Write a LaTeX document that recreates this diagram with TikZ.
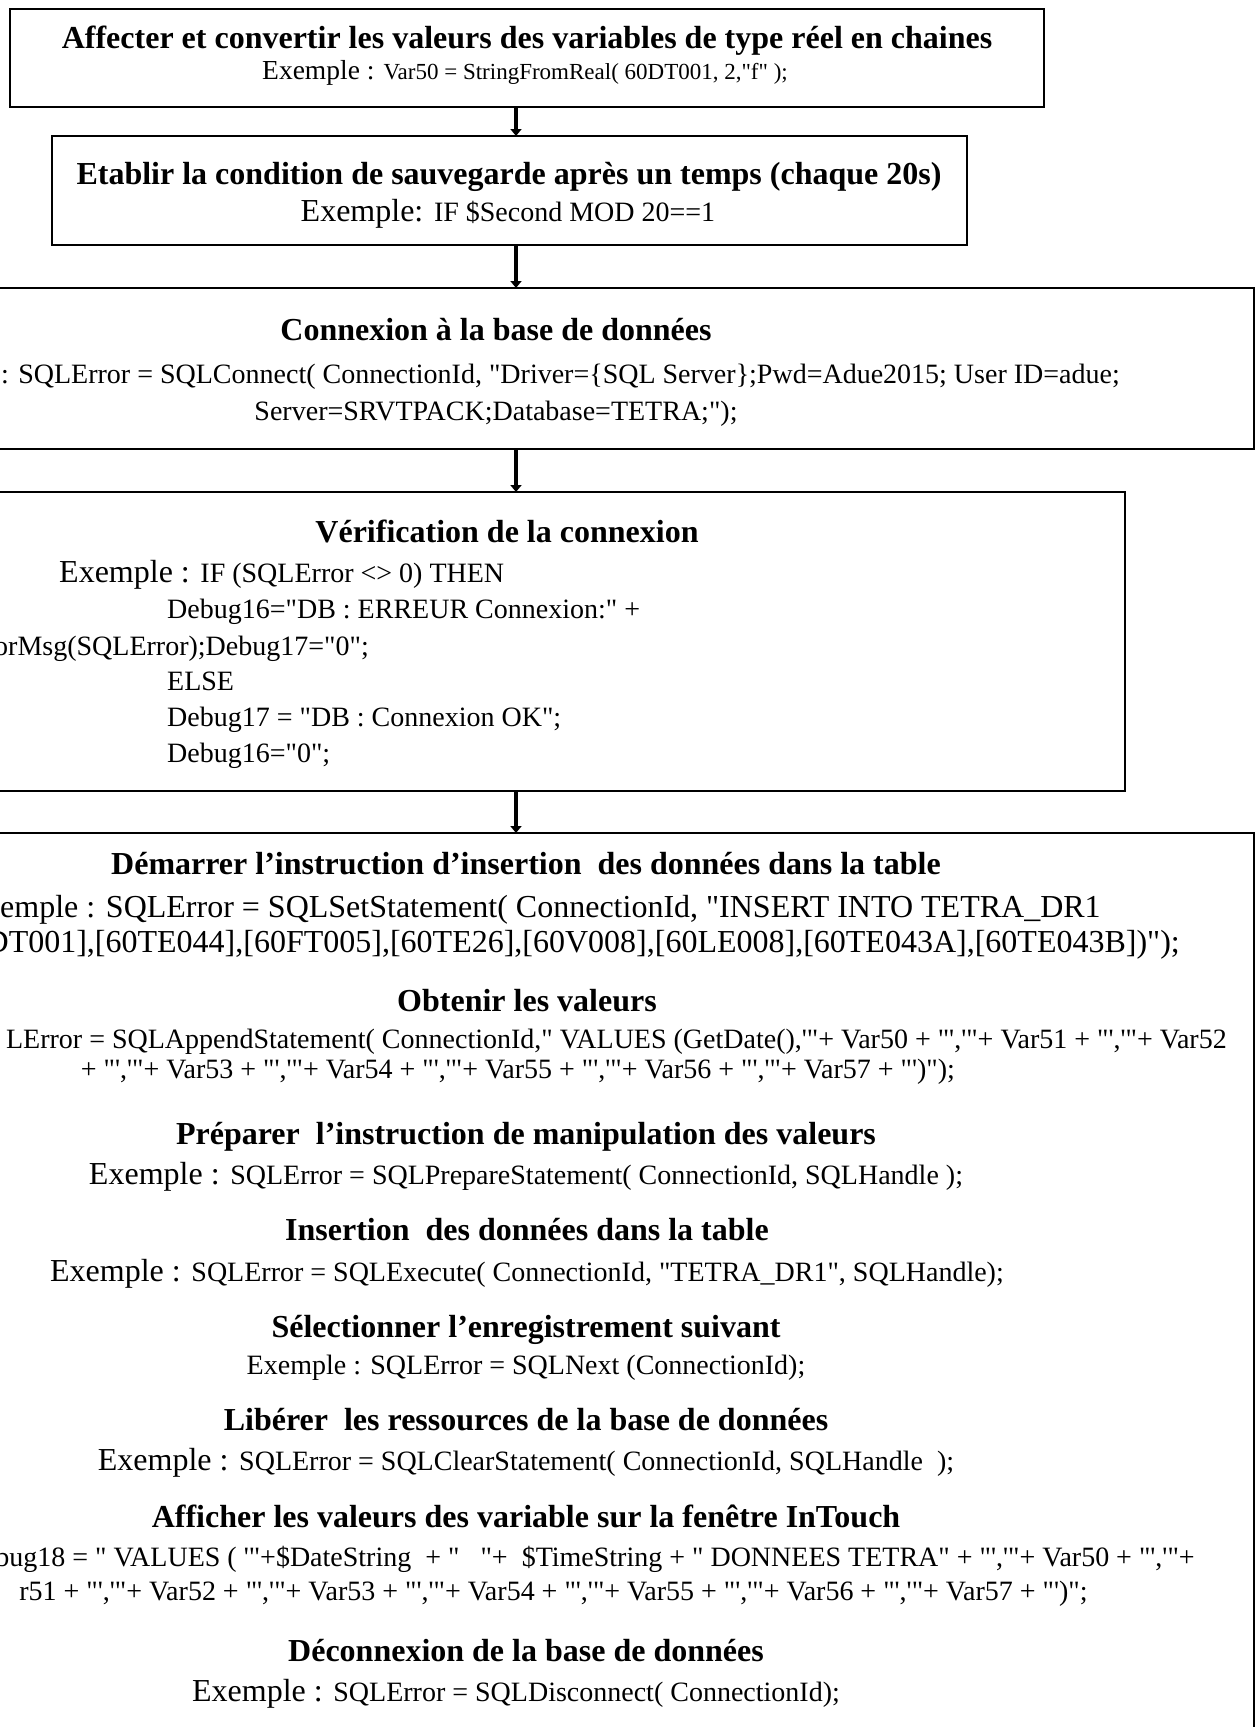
\documentclass[tikz,border=0pt]{standalone}
\usepackage{fontspec}
\newfontfamily\tnr{Liberation Serif}
\usetikzlibrary{arrows.meta}
\newcommand\ftitle{\tnr\bfseries\fontsize{32}{37}\selectfont}
\newcommand\fex{\tnr\fontsize{32}{37}\selectfont}
\newcommand\fcode{\tnr\fontsize{28}{32}\selectfont}
\newcommand\fexsmall{\tnr\fontsize{27.5}{32}\selectfont}
\newcommand\fcodesmall{\tnr\fontsize{23}{27}\selectfont}
\tikzset{
  stepbox/.style={draw, line width=2.2pt, inner sep=0pt, outer sep=0pt, rectangle},
  ttl/.style={anchor=base, inner sep=0pt, font=\ftitle},
  txt/.style={anchor=base, inner sep=0pt, font=\fcode},
  txtl/.style={anchor=base west, inner sep=0pt, font=\fcode},
  txtr/.style={anchor=base east, inner sep=0pt, font=\fcode},
  flow/.style={line width=4.5pt, -{Triangle[length=7pt,width=11pt]}}
}
\begin{document}
\begin{tikzpicture}[x=1pt,y=-1pt]
\useasboundingbox (0,0) rectangle (1258,1727);
\fill[white] (0,0) rectangle (1258,1727);

% boxes
\node[stepbox, minimum width=1034pt, minimum height=98pt] (b1) at (527,58) {};
\node[stepbox, minimum width=915pt, minimum height=109pt] (b2) at (509.5,190.5) {};
\node[stepbox, minimum width=1476pt, minimum height=161pt] (b3) at (516,368.5) {};
\node[stepbox, minimum width=1218pt, minimum height=299pt] (b4) at (516,641.5) {};
\node[stepbox, minimum width=1476pt, minimum height=947pt] (b5) at (516,1306.5) {};

% connectors
\coordinate (ax) at (516,0);
\draw[flow] (b1.south -| ax) -- (b2.north -| ax);
\draw[flow] (b2.south -| ax) -- (b3.north -| ax);
\draw[flow] (b3.south -| ax) -- (b4.north -| ax);
\draw[flow] (b4.south -| ax) -- (b5.north -| ax);

% step 1
\node[ttl] (t1) at (527,48) {Affecter et convertir les valeurs des variables de type réel en chaines};
\node[txt, font=\fcodesmall] (e1) at (525,79) {{\fexsmall Exemple : }Var50 = StringFromReal( 60DT001, 2,"f" );};

% step 2
\node[ttl] (t2) at (509,184) {Etablir la condition de sauvegarde après un temps (chaque 20s)};
\node[txt] (e2) at (508,221) {{\fex Exemple: }IF \$Second MOD 20==1};

% step 3
\node[ttl] (t3) at (496,340) {Connexion à la base de données};
\node[txtr] (e3a) at (1120,383) {: SQLError = SQLConnect( ConnectionId, "Driver=\{SQL Server\};Pwd=Adue2015; User ID=adue;};
\node[txt] (e3b) at (496,420) {Server=SRVTPACK;Database=TETRA;");};

% step 4
\node[ttl] (t4) at (507,542) {Vérification de la connexion};
\node[txtl] (e4a) at (59,582) {{\fex Exemple : }IF (SQLError <> 0) THEN};
\node[txtl] (e4b) at (167,618) {Debug16="DB : ERREUR Connexion:" +};
\node[txtr] (e4c) at (369,655) {orMsg(SQLError);Debug17="0";};
\node[txtl] (e4d) at (167,690) {ELSE};
\node[txtl] (e4e) at (167,726) {Debug17 = "DB : Connexion OK";};
\node[txtl] (e4f) at (167,762) {Debug16="0";};

% step 5
\node[ttl] (t5a) at (526,874) {Démarrer l’instruction d’insertion~ des données dans la table};
\node[txtl, font=\fex] (e5a) at (0,917) {emple : SQLError = SQLSetStatement( ConnectionId, "INSERT INTO TETRA\_DR1};
\node[txtr, font=\fex] (e5b) at (1180,952) {DT001],[60TE044],[60FT005],[60TE26],[60V008],[60LE008],[60TE043A],[60TE043B])");};

\node[ttl] (t5b) at (527,1011) {Obtenir les valeurs};
\node[txtr] (e5c) at (1227,1048) {LError = SQLAppendStatement( ConnectionId," VALUES (GetDate(),'"+ Var50 + "','"+ Var51 + "','"+ Var52};
\node[txt] (e5d) at (518,1078) {+ "','"+ Var53 + "','"+ Var54 + "','"+ Var55 + "','"+ Var56 + "','"+ Var57 + "')");};

\node[ttl] (t5c) at (526,1144) {Préparer~ l’instruction de manipulation des valeurs};
\node[txt] (e5e) at (526,1184) {{\fex Exemple : }SQLError = SQLPrepareStatement( ConnectionId, SQLHandle );};

\node[ttl] (t5d) at (527,1240) {Insertion~ des données dans la table};
\node[txt] (e5f) at (527,1281) {{\fex Exemple : }SQLError = SQLExecute( ConnectionId, "TETRA\_DR1", SQLHandle);};

\node[ttl] (t5e) at (526,1337) {Sélectionner l’enregistrement suivant};
\node[txt] (e5g) at (526,1374) {Exemple : SQLError = SQLNext (ConnectionId);};

\node[ttl] (t5f) at (526,1430) {Libérer~ les ressources de la base de données};
\node[txt] (e5h) at (526,1470) {{\fex Exemple : }SQLError = SQLClearStatement( ConnectionId, SQLHandle~ );};

\node[ttl] (t5g) at (526,1527) {Afficher les valeurs des variable sur la fenêtre InTouch};
\node[txtr] (e5i) at (1195,1566) {ebug18 = " VALUES ( '"+\$DateString~ + "~~~"+~ \$TimeString + " DONNEES TETRA" + "','"+ Var50 + "','"+};
\node[txtr] (e5j) at (1088,1600) {r51 + "','"+ Var52 + "','"+ Var53 + "','"+ Var54 + "','"+ Var55 + "','"+ Var56 + "','"+ Var57 + "')";};

\node[ttl] (t5h) at (526,1661) {Déconnexion de la base de données};
\node[txt] (e5k) at (516,1701) {{\fex Exemple : }SQLError = SQLDisconnect( ConnectionId);};
\end{tikzpicture}
\end{document}
